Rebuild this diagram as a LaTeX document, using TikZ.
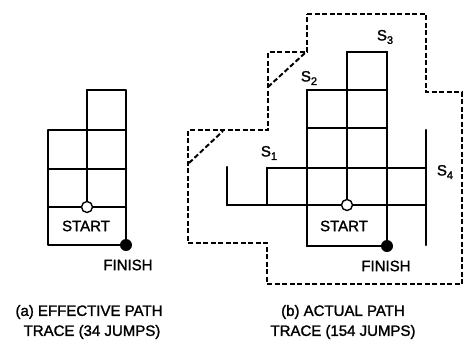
\documentclass[tikz,border=0pt]{standalone}
\usepackage{fontspec}
\setmainfont[FakeBold=1.5]{Liberation Sans}
\newcommand{\sublab}[2]{#1\raisebox{-3.5pt}{\fontsize{11}{11}\selectfont #2}}
\begin{document}
\begin{tikzpicture}[x=1pt,y=-1pt,
  grid/.style={line width=2.5pt, line cap=round, line join=round},
  bound/.style={line width=2pt, dash pattern=on 5pt off 2.5pt},
  lab/.style={font=\fontsize{15}{15}\selectfont, inner sep=0pt},
  startpt/.style={circle, draw, fill=white, line width=1.4pt, minimum size=11pt, inner sep=0pt},
  finishpt/.style={circle, fill=black, minimum size=12pt, inner sep=0pt}]
\useasboundingbox (0,0) rectangle (464,341);
% ---- (a) effective path ----
\draw[grid] (87,90)--(126,90)--(126,245)--(48,245)--(48,130)--(126,130);
\draw[grid] (48,169)--(126,169);
\draw[grid] (48,207)--(126,207);
\draw[grid] (87,90)--(87,207);
\node[startpt] (sa) at (87,207) {};
\node[finishpt] (fa) at (126,245) {};
\node[lab] (ta) at (86,226) {START};
\node[lab] (fia) at (128,265) {FINISH};
\node[lab] (capa1) at (89,312) {(a) EFFECTIVE PATH};
\node[lab] (capa2) at (92,332) {TRACE (34 JUMPS)};
% ---- (b) actual path ----
\draw[bound] (307,14)--(426,14)--(426,92)--(462,92)--(462,284)--(267,284)--(267,243)--(188,243)--(188,130)--(268,130)--(268,52)--(307,52)--cycle;
\draw[bound] (268,87)--(305,53);
\draw[bound] (189,163)--(223,131);
\draw[grid] (347,52)--(387,52);
\draw[grid] (307,90)--(387,90);
\draw[grid] (307,128)--(387,128);
\draw[grid] (267,168)--(426,168);
\draw[grid] (227,205)--(426,205);
\draw[grid] (307,246)--(387,246);
\draw[grid] (227,167)--(227,205);
\draw[grid] (267,168)--(267,205);
\draw[grid] (307,90)--(307,246);
\draw[grid] (347,52)--(347,205);
\draw[grid] (387,52)--(387,246);
\draw[grid] (426,130)--(426,245);
\node[startpt] (sb) at (347,205) {};
\node[finishpt] (fb) at (387,246) {};
\node[lab] (tb) at (344,226) {START};
\node[lab] (fib) at (386,266) {FINISH};
\node[lab] (s1) at (269,153) {\sublab{S}{1}};
\node[lab] (s2) at (309,78) {\sublab{S}{2}};
\node[lab] (s3) at (385,37) {\sublab{S}{3}};
\node[lab] (s4) at (445,172) {\sublab{S}{4}};
\node[lab] (capb1) at (343,312) {(b) ACTUAL PATH};
\node[lab] (capb2) at (343,332) {TRACE (154 JUMPS)};
\end{tikzpicture}
\end{document}
